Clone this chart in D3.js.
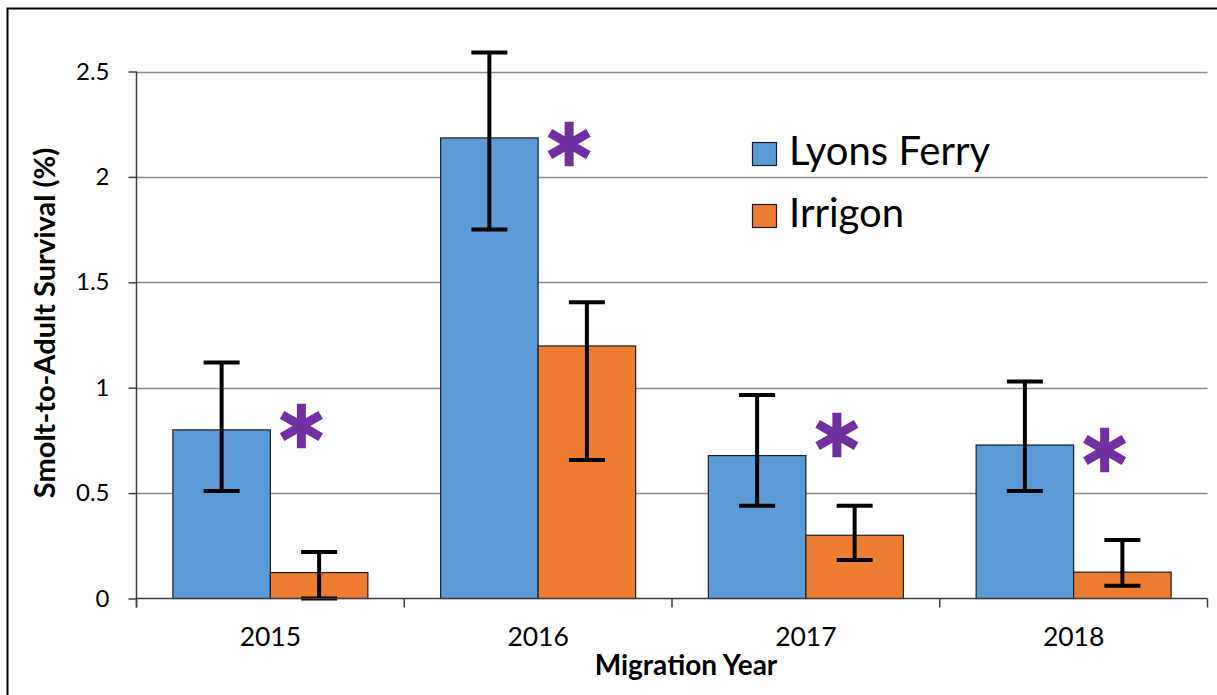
<!DOCTYPE html>
<html>
<head>
<meta charset="utf-8">
<script src="https://cdn.jsdelivr.net/npm/d3@7"></script>
<style>
  html, body { margin: 0; padding: 0; background: #fff; }
  svg { display: block; }
  text { font-family: Lato, "Open Sans", sans-serif; fill: #000; }
</style>
</head>
<body>
<svg id="chart" width="1217" height="695"></svg>
<script>
// ---- data ----
const years = ["2015", "2016", "2017", "2018"];
const series = ["Lyons Ferry", "Irrigon"];
const lyonsFerry = [0.80, 2.185, 0.678, 0.728];
const lyonsFerryLow = [0.51, 1.75, 0.44, 0.51];
const lyonsFerryHigh = [1.12, 2.59, 0.965, 1.03];
const irrigon = [0.123, 1.198, 0.30, 0.125];
const irrigonLow = [0.0, 0.657, 0.183, 0.06];
const irrigonHigh = [0.22, 1.405, 0.44, 0.278];
const significant = [true, true, true, true];
const asteriskLevel = [0.818, 2.156, 0.776, 0.704];
const yTicks = [0, 0.5, 1, 1.5, 2, 2.5];
const yTickLabels = ["0", "0.5", "1", "1.5", "2", "2.5"];
const colors = { "Lyons Ferry": "#5B9BD5", "Irrigon": "#ED7D31" };

const rows = years.map((yr, i) => ({
  year: yr,
  values: [
    { s: "Lyons Ferry", v: lyonsFerry[i], lo: lyonsFerryLow[i], hi: lyonsFerryHigh[i] },
    { s: "Irrigon", v: irrigon[i], lo: irrigonLow[i], hi: irrigonHigh[i] }
  ],
  sig: significant[i],
  star: asteriskLevel[i]
}));

const svg = d3.select("#chart");

// outer border
svg.append("rect").attr("x", 7.5).attr("y", 8.5).attr("width", 1230).attr("height", 720)
  .attr("fill", "none").attr("stroke", "#000").attr("stroke-width", 2);

const pL = 136.5, pR = 1207.5, pT = 71.5, pB = 598.5;
const y = d3.scaleLinear().domain([0, 2.5]).range([pB, pT]);
const x0 = d3.scaleBand().domain(years).range([pL, pR]).padding(0);
const x1 = d3.scaleBand().domain(series).range([0, x0.bandwidth()]).paddingInner(0).paddingOuter(0.373);

// gridlines
svg.append("g").selectAll("line").data(yTicks.filter(t => t > 0)).join("line")
  .attr("x1", pL).attr("x2", pR)
  .attr("y1", d => Math.round(y(d)) + 0.5).attr("y2", d => Math.round(y(d)) + 0.5)
  .attr("stroke", "#8c8c8c").attr("stroke-width", 1.5);

// bars
const groups = svg.append("g").selectAll("g").data(rows).join("g")
  .attr("transform", d => `translate(${x0(d.year)},0)`);

groups.selectAll("rect").data(d => d.values).join("rect")
  .attr("x", d => x1(d.s))
  .attr("y", d => y(d.v))
  .attr("width", x1.bandwidth())
  .attr("height", d => y(0) - y(d.v))
  .attr("fill", d => colors[d.s])
  .attr("stroke", "#1f1f1f").attr("stroke-width", 1.2);

// y axis
const yAxis = d3.axisLeft(y).tickValues(yTicks).tickFormat((d, i) => yTickLabels[i]).tickSize(8).tickPadding(19);
const gy = svg.append("g").attr("transform", `translate(${pL},0)`).call(yAxis);
gy.select(".domain").attr("stroke", "#404040").attr("stroke-width", 1.5).attr("d", `M0,${pT}V${pB + 9}`);
gy.selectAll(".tick line").attr("stroke", "#404040").attr("stroke-width", 1.5);
gy.selectAll(".tick text").style("font-family", "Lato, sans-serif").style("font-size", "24px").attr("fill", "#000");

// x axis (category boundary ticks)
const gx = svg.append("g").attr("transform", `translate(0,${pB})`);
gx.append("line").attr("x1", pL).attr("x2", pR).attr("y1", 0).attr("y2", 0)
  .attr("stroke", "#404040").attr("stroke-width", 1.5);
const boundaries = years.map(yr => x0(yr)).concat([pR]);
gx.selectAll("line.tk").data(boundaries).join("line").attr("class", "tk")
  .attr("x1", d => d).attr("x2", d => d).attr("y1", 0).attr("y2", 9)
  .attr("stroke", "#404040").attr("stroke-width", 1.5);
gx.selectAll("text").data(years).join("text")
  .attr("x", d => x0(d) + x0.bandwidth() / 2)
  .attr("y", 47)
  .attr("text-anchor", "middle")
  .style("font-size", "26.5px")
  .text(d => d);

// error bars
const eb = groups.selectAll("g.err").data(d => d.values).join("g").attr("class", "err");
const capW = 36;
eb.append("line")
  .attr("x1", d => x1(d.s) + x1.bandwidth() / 2).attr("x2", d => x1(d.s) + x1.bandwidth() / 2)
  .attr("y1", d => y(d.hi)).attr("y2", d => y(d.lo))
  .attr("stroke", "#000").attr("stroke-width", 4);
eb.append("line")
  .attr("x1", d => x1(d.s) + x1.bandwidth() / 2 - capW / 2).attr("x2", d => x1(d.s) + x1.bandwidth() / 2 + capW / 2)
  .attr("y1", d => y(d.hi)).attr("y2", d => y(d.hi))
  .attr("stroke", "#000").attr("stroke-width", 4);
eb.append("line")
  .attr("x1", d => x1(d.s) + x1.bandwidth() / 2 - capW / 2).attr("x2", d => x1(d.s) + x1.bandwidth() / 2 + capW / 2)
  .attr("y1", d => y(d.lo)).attr("y2", d => y(d.lo))
  .attr("stroke", "#000").attr("stroke-width", 4);

// significance asterisks
const star = d3.symbol(d3.symbolAsterisk, 1400);
groups.filter(d => d.sig).append("path")
  .attr("d", star())
  .attr("transform", d => `translate(${x1("Irrigon") + 31},${y(d.star)})`)
  .attr("fill", "none")
  .attr("stroke", "#7030A0").attr("stroke-width", 9);

// legend
const legend = svg.append("g").attr("transform", "translate(752,142)");
const li = legend.selectAll("g").data(series).join("g")
  .attr("transform", (d, i) => `translate(0,${i * 62})`);
li.append("rect").attr("x", 0.5).attr("y", 0.5).attr("width", 24).attr("height", 23)
  .attr("fill", d => colors[d]).attr("stroke", "#1f1f1f").attr("stroke-width", 1.2);
li.append("text").attr("x", 37).attr("y", 23).style("font-size", "40px").text(d => d);

// axis titles
svg.append("text")
  .attr("transform", `translate(55,${(pT + pB) / 2 - 12}) rotate(-90)`)
  .attr("text-anchor", "middle")
  .style("font-size", "29px").style("font-weight", "bold")
  .text("Smolt-to-Adult Survival (%)");
svg.append("text")
  .attr("x", 686).attr("y", 675)
  .attr("text-anchor", "middle")
  .style("font-size", "28px").style("font-weight", "bold")
  .text("Migration Year");
</script>
</body>
</html>
